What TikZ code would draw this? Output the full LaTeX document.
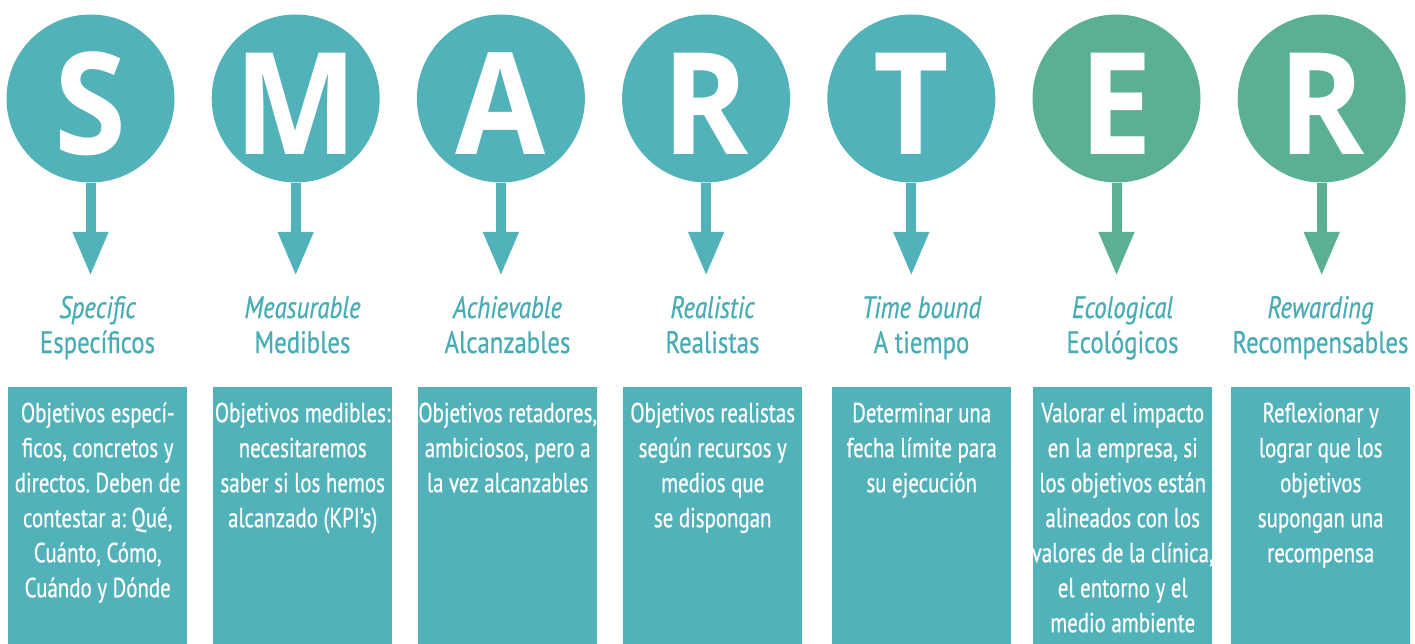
\documentclass[tikz,border=0pt]{standalone}
\usepackage{fontspec}
\setmainfont{PT Sans}[FakeStretch=0.8,FakeBold=0.6]
\newfontfamily\cardfont{PT Sans}[FakeStretch=0.76,FakeBold=0.6]
\newfontfamily\letterfont{Open Sans}[FakeStretch=0.92]
\usetikzlibrary{arrows.meta}
\definecolor{teal1}{RGB}{82,178,186}
\definecolor{green1}{RGB}{91,176,145}
\definecolor{labcol}{RGB}{72,172,180}
\tikzset{
  bubble/.style={circle, fill=#1, minimum size=168pt, inner sep=0pt},
  letter/.style={anchor=base, text=white, inner sep=0pt, font=\letterfont\bfseries\fontsize{142}{142}\selectfont},
  pointer/.style={draw=#1, line width=10pt, -{Triangle[width=33pt,length=44pt]}},
  label/.style={anchor=base, inner sep=0pt, text=labcol, font=\fontsize{31}{35}\selectfont},
  ilabel/.style={label, font=\itshape\fontsize{31}{35}\selectfont},
  card/.style={fill=teal1, minimum width=179pt, minimum height=257pt, anchor=north west, inner sep=0pt},
  cardtext/.style={anchor=north, inner sep=0pt, text=white, align=center, font=\cardfont\frenchspacing\fontsize{27.5}{35}\selectfont},
}
\begin{document}
\begin{tikzpicture}[x=1pt,y=-1pt]
\useasboundingbox (0,0) rectangle (1415,644);
% circles and letters
\foreach \n/\L/\c [count=\i from 0] in {S/S/teal1, M/M/teal1, A/A/teal1, R/R/teal1, T/T/teal1, E/E/green1, W/R/green1}{
  \node[bubble=\c] (c\n) at (90.5+205.2*\i, 98.5) {};
  \node[letter] (l\n) at (90.5+205.2*\i, 154.5) {\L};
  \coordinate (t\n) at (90.5+205.2*\i, 276);
  \draw[pointer=\c] (c\n.south) -- (t\n);
}
% labels
\foreach \n/\bx/\it/\es in {S/8/Specific/Específicos, M/213/Measurable/Medibles, A/418/Achievable/Alcanzables, R/623/Realistic/Realistas, T/832/Time bound/A tiempo, E/1033/Ecological/Ecológicos, W/1231/Rewarding/Recompensables}{
  \node[ilabel] (i\n) at (\bx+89.5, 318) {\it};
  \node[label] (e\n) at (\bx+89.5, 353) {\es};
  \node[card] (b\n) at (\bx, 387) {};
}
\node[cardtext] (xS) at ([yshift=-12pt]bS.north) {\rule{0pt}{23pt}Objetivos especí-\\ficos, concretos y\\directos. Deben de\\contestar a: Qué,\\Cuánto, Cómo,\\Cuándo y Dónde};
\node[cardtext] (xM) at ([yshift=-12pt]bM.north) {\rule{0pt}{23pt}Objetivos medibles:\\necesitaremos\\saber si los hemos\\alcanzado (KPI’s)};
\node[cardtext] (xA) at ([yshift=-12pt]bA.north) {\rule{0pt}{23pt}Objetivos retadores,\\ambiciosos, pero a\\la vez alcanzables};
\node[cardtext] (xR) at ([yshift=-12pt]bR.north) {\rule{0pt}{23pt}Objetivos realistas\\según recursos y\\medios que\\se dispongan};
\node[cardtext] (xT) at ([yshift=-12pt]bT.north) {\rule{0pt}{23pt}Determinar una\\fecha límite para\\su ejecución};
\node[cardtext] (xE) at ([yshift=-12pt]bE.north) {\rule{0pt}{23pt}Valorar el impacto\\en la empresa, si\\los objetivos están\\alineados con los\\valores de la clínica,\\el entorno y el\\medio ambiente};
\node[cardtext] (xW) at ([yshift=-12pt]bW.north) {\rule{0pt}{23pt}Reflexionar y\\lograr que los\\objetivos\\supongan una\\recompensa};
\end{tikzpicture}
\end{document}
